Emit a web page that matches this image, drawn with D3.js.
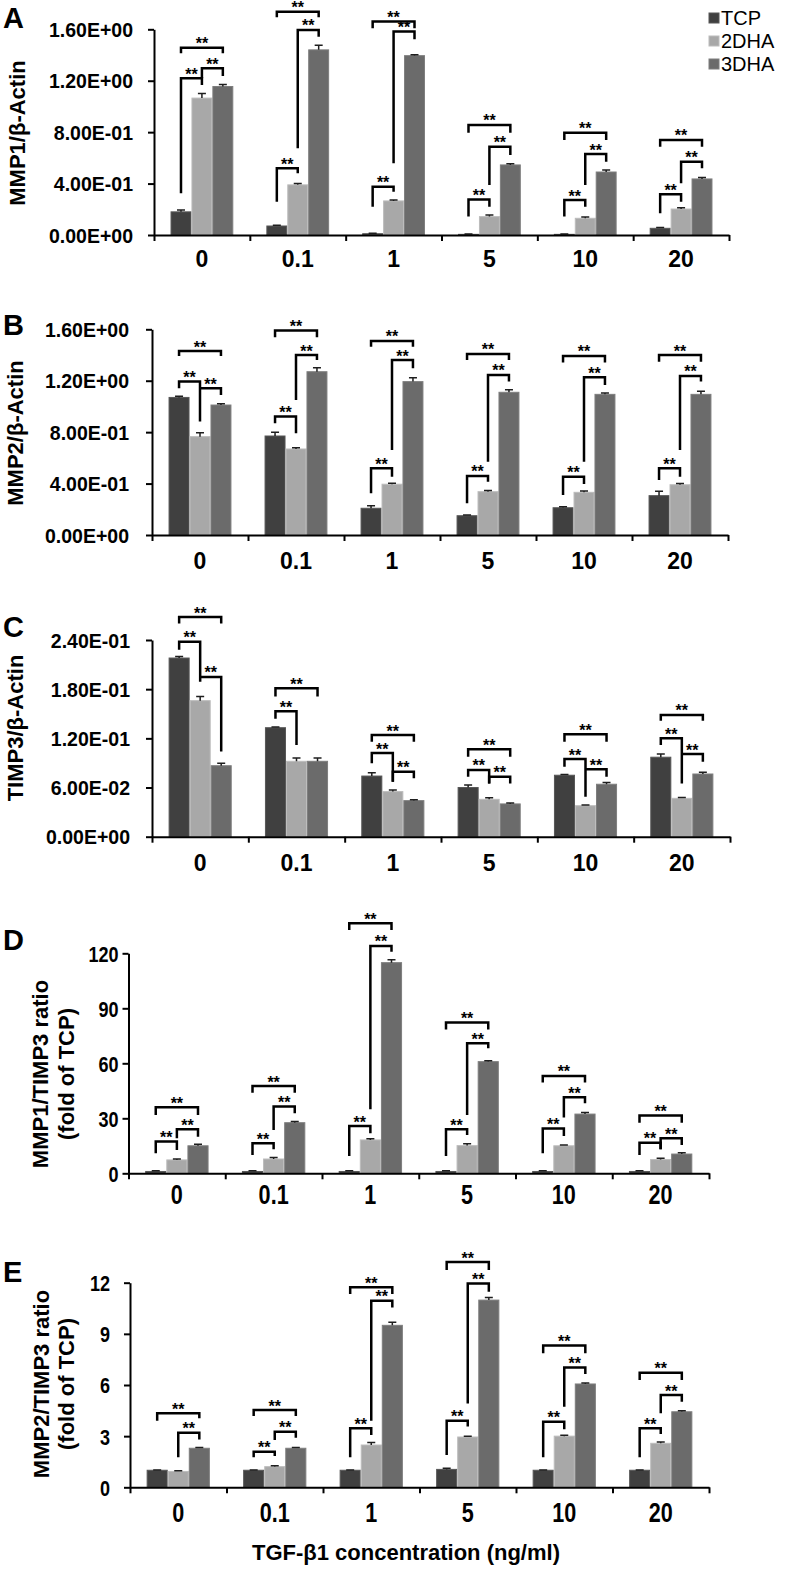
<!DOCTYPE html>
<html><head><meta charset="utf-8">
<script src="https://cdn.jsdelivr.net/npm/d3@7"></script>
<style>
body{margin:0;background:#fff}
svg{display:block}
text{font-family:"Liberation Sans",Arial,Helvetica,sans-serif}
</style>
</head><body>
<svg id="chart" width="792" height="1573"></svg>
<script>
// ---------- DATA ----------
const categories = ["0","0.1","1","5","10","20"];
const seriesNames = ["TCP","2DHA","3DHA"];

const mmp1Values = [
  [0.18, 0.07, 0.01, 0.005, 0.005, 0.052],
  [1.065, 0.39, 0.265, 0.143, 0.13, 0.202],
  [1.155, 1.44, 1.395, 0.545, 0.49, 0.436]
];
const mmp1Errors = [
  [0.015, 0.006, 0.003, 0.003, 0.003, 0.006],
  [0.035, 0.01, 0.008, 0.012, 0.01, 0.01],
  [0.015, 0.035, 0.008, 0.01, 0.015, 0.012]
];
// [group, seriesA, seriesB, bracket level, leg A end, leg B end]
const mmp1Sig = [
  [0,0,1,1.219,0.324,1.167],[0,1,2,1.297,1.219,1.237],[0,0,2,1.457,1.413,1.413],
  [1,0,1,0.519,0.259,0.48],[1,1,2,1.595,0.674,1.543],[1,0,2,1.737,1.693,1.693],
  [2,0,1,0.376,0.22,0.337],[2,1,2,1.582,0.558,1.522],[2,0,2,1.66,1.608,1.608],
  [3,0,1,0.277,0.143,0.22],[3,1,2,0.687,0.389,0.622],[3,0,2,0.856,0.796,0.796],
  [4,0,1,0.272,0.143,0.22],[4,1,2,0.63,0.389,0.57],[4,0,2,0.796,0.739,0.739],
  [5,0,1,0.316,0.169,0.259],[5,1,2,0.57,0.402,0.519],[5,0,2,0.739,0.687,0.687]
];

const mmp2Values = [
  [1.07, 0.77, 0.208, 0.15, 0.212, 0.306],
  [0.765, 0.669, 0.395, 0.337, 0.332, 0.391],
  [1.011, 1.27, 1.193, 1.11, 1.094, 1.094]
];
const mmp2Errors = [
  [0.01, 0.03, 0.02, 0.005, 0.008, 0.035],
  [0.03, 0.01, 0.008, 0.01, 0.01, 0.01],
  [0.01, 0.03, 0.03, 0.02, 0.01, 0.025]
];
const mmp2Sig = [
  [0,0,1,1.193,1.141,0.882],[0,1,2,1.141,1.141,1.089],[0,0,2,1.431,1.393,1.393],
  [1,0,1,0.921,0.869,0.791],[1,1,2,1.400,1.05,1.361],[1,0,2,1.59,1.538,1.538],
  [2,0,1,0.519,0.324,0.454],[2,1,2,1.361,0.661,1.297],[2,0,2,1.509,1.465,1.465],
  [3,0,1,0.459,0.246,0.415],[3,1,2,1.245,0.57,1.193],[3,0,2,1.408,1.361,1.361],
  [4,0,1,0.454,0.311,0.397],[4,1,2,1.227,0.57,1.167],[4,0,2,1.393,1.341,1.341],
  [5,0,1,0.519,0.428,0.454],[5,1,2,1.237,0.661,1.193],[5,0,2,1.4,1.348,1.348]
];

const timp3Values = [
  [0.218, 0.133, 0.074, 0.06, 0.075, 0.097],
  [0.166, 0.092, 0.055, 0.0456, 0.0378, 0.0468],
  [0.0866, 0.092, 0.044, 0.04, 0.064, 0.0765]
];
const timp3Errors = [
  [0.002, 0.001, 0.004, 0.003, 0.001, 0.004],
  [0.005, 0.004, 0.002, 0.002, 0.001, 0.001],
  [0.003, 0.004, 0.001, 0.001, 0.002, 0.002]
];
const timp3Sig = [
  [0,0,1,0.238,0.228,0.189],[0,1,2,0.195,0.195,0.104],[0,0,2,0.268,0.26,0.26],
  [1,0,1,0.153,0.144,0.112],[1,0,2,0.181,0.171,0.171],
  [2,0,1,0.102,0.0895,0.067],[2,1,2,0.0793,0.067,0.0712],[2,0,2,0.124,0.116,0.116],
  [3,0,1,0.0814,0.0732,0.065],[3,1,2,0.0732,0.065,0.065],[3,0,2,0.1066,0.0976,0.0976],
  [4,0,1,0.0948,0.0854,0.0488],[4,1,2,0.0822,0.0822,0.0732],[4,0,2,0.1249,0.116,0.116],
  [5,0,1,0.12,0.1119,0.065],[5,1,2,0.1009,0.1009,0.0915],[5,0,2,0.1485,0.1416,0.1416]
];

const ratio1Values = [
  [1, 1, 1, 1, 1, 1],
  [7.3, 7.8, 18.2, 15.1, 15, 7.5],
  [15, 27.6, 114.9, 60.9, 32.3, 10.5]
];
const ratio1Errors = [
  [0.4, 0.4, 0.4, 0.4, 0.4, 0.4],
  [0.5, 0.8, 0.6, 1.0, 0.5, 0.7],
  [0.8, 0.6, 1.6, 0.5, 0.8, 0.7]
];
const ratio1Sig = [
  [0,0,1,17.3,10.9,12.7],[0,1,2,24,19.1,20],[0,0,2,36,31.8,31.8],
  [1,0,1,16.4,10,13.1],[1,1,2,36.4,23.6,32.7],[1,0,2,47.6,44,44],
  [2,0,1,25.8,9.5,21.8],[2,1,2,124,34.9,120.9],[2,0,2,136.4,132.7,132.7],
  [3,0,1,24,9.5,20.9],[3,1,2,70.9,31.8,68.2],[3,0,2,82.2,78.5,78.5],
  [4,0,1,24.5,10.9,20.4],[4,1,2,41.5,30.5,38.2],[4,0,2,53.1,49.5,49.5],
  [5,0,1,16.7,10,13.1],[5,1,2,19.1,13.1,15.5],[5,0,2,31.5,27.6,27.6]
];

const ratio2Values = [
  [1, 1, 1, 1.05, 1, 1],
  [0.93, 1.21, 2.48, 2.95, 3.0, 2.58],
  [2.29, 2.29, 9.5, 10.98, 6.06, 4.43]
];
const ratio2Errors = [
  [0.02, 0.02, 0.02, 0.07, 0.02, 0.02],
  [0.04, 0.05, 0.15, 0.05, 0.05, 0.08],
  [0.05, 0.05, 0.18, 0.15, 0.06, 0.06]
];
const ratio2Sig = [
  [0,1,2,3.2,1.76,2.81],[0,0,2,4.34,3.91,4.05],
  [1,0,1,2.09,1.76,1.84],[1,1,2,3.26,2.78,2.91],[1,0,2,4.53,4.18,4.18],
  [2,0,1,3.46,1.76,3.07],[2,1,2,10.94,3.91,10.55],[2,0,2,11.73,11.34,11.34],
  [3,0,1,3.91,1.9,3.56],[3,1,2,11.96,4.92,11.47],[3,0,2,13.21,12.74,12.74],
  [4,0,1,3.85,1.76,3.4],[4,1,2,7.02,4.73,6.64],[4,0,2,8.31,7.86,7.86],
  [5,0,1,3.46,1.76,3.13],[5,1,2,5.41,4.34,5.02],[5,0,2,6.72,6.29,6.29]
];

const mmpTicks = [0, 0.4, 0.8, 1.2, 1.6];
const mmpTickLabels = ["0.00E+00","4.00E-01","8.00E-01","1.20E+00","1.60E+00"];
const timpTicks = [0, 0.06, 0.12, 0.18, 0.24];
const timpTickLabels = ["0.00E+00","6.00E-02","1.20E-01","1.80E-01","2.40E-01"];
const ratio1Ticks = [0, 30, 60, 90, 120];
const ratio1TickLabels = ["0","30","60","90","120"];
const ratio2Ticks = [0, 3, 6, 9, 12];
const ratio2TickLabels = ["0","3","6","9","12"];

const sigLabel = "**";
const xTitle = "TGF-β1 concentration (ng/ml)";

// ---------- STYLE / LAYOUT ----------
const seriesColors = ["#404040", "#a8a8a8", "#6b6b6b"];
const seriesStroke = ["#575757", "#bcbcbc", "#7e7e7e"];

const panels = [
  {letter:"A", letterY:28, values:mmp1Values, errors:mmp1Errors, sig:mmp1Sig,
   ticks:mmpTicks, tickLabels:mmpTickLabels, max:1.6,
   x0:154, x1:729, yB:235, yT:29.3, yTitle:["MMP1/β-Actin"], titleX:[17], titleY:133,
   labelBase:267, tickGap:15, narrow:false},
  {letter:"B", letterY:335, values:mmp2Values, errors:mmp2Errors, sig:mmp2Sig,
   ticks:mmpTicks, tickLabels:mmpTickLabels, max:1.6,
   x0:152, x1:728, yB:535, yT:329.3, yTitle:["MMP2/β-Actin"], titleX:[15], titleY:433,
   labelBase:569, tickGap:17, narrow:false},
  {letter:"C", letterY:637, values:timp3Values, errors:timp3Errors, sig:timp3Sig,
   ticks:timpTicks, tickLabels:timpTickLabels, max:0.24,
   x0:152, x1:730, yB:836.7, yT:640, yTitle:["TIMP3/β-Actin"], titleX:[15], titleY:728,
   labelBase:871, tickGap:16, narrow:false},
  {letter:"D", letterY:950, values:ratio1Values, errors:ratio1Errors, sig:ratio1Sig,
   ticks:ratio1Ticks, tickLabels:ratio1TickLabels, max:120,
   x0:128.5, x1:709, yB:1173.3, yT:953.3, yTitle:["MMP1/TIMP3 ratio","(fold of TCP)"], titleX:[40,66], titleY:1074,
   labelBase:1204, tickGap:4, narrow:true},
  {letter:"E", letterY:1282, values:ratio2Values, errors:ratio2Errors, sig:ratio2Sig,
   ticks:ratio2Ticks, tickLabels:ratio2TickLabels, max:12,
   x0:130, x1:709, yB:1487.3, yT:1282.7, yTitle:["MMP2/TIMP3 ratio","(fold of TCP)"], titleX:[41,66], titleY:1384,
   labelBase:1522, tickGap:14, narrow:true}
];

const svg = d3.select("#chart");

function drawPanel(p) {
  const g = svg.append("g");
  const x = d3.scaleBand().domain(categories).range([p.x0, p.x1])
    .paddingInner(0.345).paddingOuter(0.1725);
  const xs = d3.scaleBand().domain(seriesNames).range([0, x.bandwidth()]);
  const y = d3.scaleLinear().domain([0, p.max]).range([p.yB, p.yT]);
  const bounds = d3.scaleLinear().domain([0, categories.length]).range([p.x0, p.x1]);

  // bars
  seriesNames.forEach((s, si) => {
    g.append("g").selectAll("rect").data(p.values[si]).join("rect")
      .attr("x", (d, i) => x(categories[i]) + xs(s) + 0.5)
      .attr("y", d => y(d))
      .attr("width", xs.bandwidth() - 1)
      .attr("height", d => y(0) - y(d))
      .attr("fill", seriesColors[si])
      .attr("stroke", seriesStroke[si])
      .attr("stroke-width", 1);
  });
  // error bars
  seriesNames.forEach((s, si) => {
    const eg = g.append("g").attr("stroke", "#1e1e1e").attr("stroke-width", 1.5).attr("fill", "none");
    p.values[si].forEach((v, i) => {
      const cx = x(categories[i]) + xs(s) + xs.bandwidth() / 2;
      const e = p.errors[si][i];
      eg.append("path").attr("d",
        `M${cx},${y(v)}V${y(v + e)}M${cx - 4},${y(v + e)}H${cx + 4}`);
    });
  });

  // significance brackets
  const bg = g.append("g");
  p.sig.forEach(([gi, a, b, top, la, lb]) => {
    const xa = x(categories[gi]) + xs(seriesNames[a]) + xs.bandwidth() / 2;
    const xb = x(categories[gi]) + xs(seriesNames[b]) + xs.bandwidth() / 2;
    bg.append("path")
      .attr("d", `M${xa},${y(la)}V${y(top)}H${xb}V${y(lb)}`)
      .attr("fill", "none").attr("stroke", "#000").attr("stroke-width", 2.5)
      .attr("stroke-linejoin", "miter");
    bg.append("text")
      .attr("x", (xa + xb) / 2).attr("y", y(top) + 1.5)
      .attr("text-anchor", "middle")
      .attr("font-size", 16).attr("font-weight", "bold")
      .text(sigLabel);
  });

  // y axis
  const ya = g.append("g").attr("transform", `translate(${p.x0},0)`)
    .call(d3.axisLeft(y).tickValues(p.ticks)
      .tickFormat((d, i) => p.tickLabels[i]).tickSize(6).tickSizeOuter(0).tickPadding(p.tickGap));
  ya.select(".domain").attr("stroke", "#000").attr("stroke-width", 2);
  ya.selectAll(".tick line").attr("stroke", "#000").attr("stroke-width", 2);
  const yt = ya.selectAll(".tick text").attr("fill", "#000").attr("font-weight", "bold")
    .attr("font-family", '"Liberation Sans", Arial, sans-serif');
  if (p.narrow) {
    yt.attr("font-size", 22).attr("x", 0).attr("dy", "0.36em")
      .attr("transform", `translate(${-(6 + p.tickGap)},0) scale(0.82,1)`);
  } else {
    yt.attr("font-size", 19.5).attr("dy", "0.36em");
  }

  // x axis line + boundary ticks
  const xa = g.append("g").attr("transform", `translate(0,${p.yB})`)
    .call(d3.axisBottom(bounds).tickValues(d3.range(categories.length + 1))
      .tickFormat("").tickSize(6).tickSizeOuter(0));
  xa.select(".domain").attr("stroke", "#000").attr("stroke-width", 2);
  xa.selectAll(".tick line").attr("stroke", "#000").attr("stroke-width", 2);

  // category labels
  const xl = g.append("g").attr("transform", `translate(0,${p.yB})`)
    .call(d3.axisBottom(x).tickSize(0));
  xl.select(".domain").remove();
  const xt = xl.selectAll(".tick text").attr("fill", "#000").attr("font-weight", "bold")
    .attr("font-family", '"Liberation Sans", Arial, sans-serif')
    .attr("y", p.labelBase - p.yB).attr("dy", 0);
  if (p.narrow) {
    xt.attr("font-size", 27).attr("y", 0)
      .attr("transform", `translate(0,${p.labelBase - p.yB}) scale(0.8,1)`);
  } else {
    xt.attr("font-size", 23);
  }

  // y title
  p.yTitle.forEach((t, k) => {
    g.append("text")
      .attr("transform", `translate(${p.titleX[k]},${p.titleY}) rotate(-90)`)
      .attr("text-anchor", "middle").attr("dominant-baseline", "central")
      .attr("font-size", 22).attr("font-weight", "bold")
      .text(t);
  });

  // panel letter
  g.append("text").attr("x", 3).attr("y", p.letterY)
    .attr("font-size", 29).attr("font-weight", "bold").text(p.letter);
}

panels.forEach(drawPanel);

// legend
const legendY = d3.scalePoint().domain(seriesNames).range([18, 64]);
const lg = svg.append("g");
seriesNames.forEach((s, i) => {
  lg.append("rect").attr("x", 709).attr("y", legendY(s) - 5).attr("width", 10).attr("height", 10)
    .attr("fill", seriesColors[i]).attr("stroke", seriesStroke[i]);
  lg.append("text").attr("x", 721).attr("y", legendY(s)).attr("dominant-baseline", "central")
    .attr("font-size", 20).text(s);
});

// x title
svg.append("text").attr("x", 406).attr("y", 1560).attr("text-anchor", "middle")
  .attr("font-size", 22).attr("font-weight", "bold").text(xTitle);
</script>
</body></html>
